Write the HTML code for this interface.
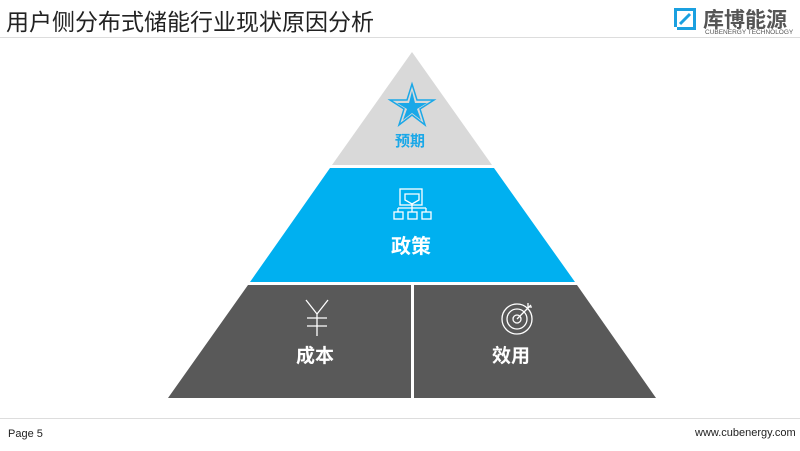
<!DOCTYPE html>
<html><head><meta charset="utf-8"><style>
html,body{margin:0;padding:0;background:#fff;}
body{width:800px;height:451px;position:relative;overflow:hidden;font-family:"Liberation Sans","Noto Sans CJK SC",sans-serif;}
.t{position:absolute;white-space:nowrap;}
</style></head><body>
<div class="t" style="left:6px;top:3px;font-size:23px;color:#222;">用户侧分布式储能行业现状原因分析</div>
<div style="position:absolute;left:0;top:37px;width:800px;height:1px;background:#ddd"></div>
<svg style="position:absolute;left:672px;top:6px" width="26" height="26" viewBox="0 0 26 26">
<path d="M2 2H24V5H5V21H2Z" fill="#1aa0e0"/><path d="M24 5V24H5V21H21V5Z" fill="#1aa0e0"/><path d="M8 18L18 8" stroke="#1aa0e0" stroke-width="3"/></svg>
<div class="t" style="left:703px;top:4px;font-size:21px;font-weight:bold;color:#555;letter-spacing:0px">库博能源</div>
<div class="t" style="left:705px;top:29px;font-size:6.5px;color:#555">CUBENERGY TECHNOLOGY</div>
<svg style="position:absolute;left:0;top:0" width="800" height="451">
<polygon points="412,52 492,165 332,165" fill="#d9d9d9"/>
<polygon points="330,168 494,168 575,282 250,282" fill="#00b0f0"/>
<polygon points="248,285 411,285 411,398 168,398" fill="#595959"/>
<polygon points="414,285 577,285 656,398 414,398" fill="#595959"/>
<polygon points="412,84 417,100 434,100 420,109 425,125 412,115 399,125 404,109 390,100 407,100" fill="none" stroke="#1aa8e8" stroke-width="1.5"/>
<polygon points="412,91 415,103 427,103 417,109 421,120 412,113 403,120 407,109 397,103 409,103" fill="#1aa8e8"/>
<g stroke="#fff" stroke-width="1.3" fill="none">
<rect x="400" y="189" width="22" height="16"/><path d="M405 194H419V200L412 204L405 200Z"/><path d="M412 204V208M398 208H426M398 208V212M412 208V212M426 208V212"/>
<rect x="394" y="212" width="9" height="7"/><rect x="408" y="212" width="9" height="7"/><rect x="422" y="212" width="9" height="7"/>
<path d="M306 300L317 314L328 300M317 314V336M307 318H327M307 326H327"/>
<circle cx="517" cy="319" r="15"/><circle cx="517" cy="319" r="10"/><circle cx="517" cy="319" r="4"/><path d="M517 319L531 305M528 303V307H532"/>
</g>
</svg>
<div class="t" style="left:395px;top:130px;font-size:15px;font-weight:bold;color:#1aa8e8">预期</div>
<div class="t" style="left:391px;top:230px;font-size:20px;font-weight:bold;color:#fff">政策</div>
<div class="t" style="left:296px;top:341px;font-size:19px;font-weight:bold;color:#fff">成本</div>
<div class="t" style="left:492px;top:341px;font-size:19px;font-weight:bold;color:#fff">效用</div>
<div style="position:absolute;left:0;top:418px;width:800px;height:1px;background:#ddd"></div>
<div class="t" style="left:8px;top:428px;font-size:11px;color:#222">Page 5</div>
<div class="t" style="left:695px;top:427px;font-size:11px;color:#222">www.cubenergy.com</div>
</body></html>
